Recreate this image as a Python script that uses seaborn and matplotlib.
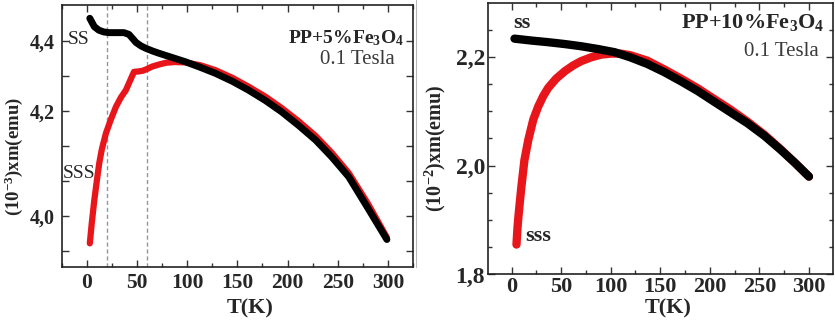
import matplotlib
matplotlib.use("Agg")
import matplotlib.pyplot as plt
import numpy as np
import pandas as pd
import seaborn as sns
from matplotlib.ticker import MultipleLocator, FixedLocator, FixedFormatter
from matplotlib.lines import Line2D

# ---------------- data ----------------
# Left panel: PP+5%Fe3O4
t5_ss = [3, 7.5, 12, 17, 22, 30, 37, 42, 46, 49, 54, 59, 66, 72, 85, 98, 113, 128,
         145, 161, 178, 194, 211, 228, 244, 261, 280, 299]
m5_ss = [4.464, 4.440, 4.430, 4.425, 4.423, 4.423, 4.423, 4.418, 4.405, 4.395, 4.385,
         4.378, 4.370, 4.364, 4.352, 4.340, 4.324, 4.307, 4.284, 4.259, 4.229, 4.197,
         4.158, 4.116, 4.068, 4.011, 3.922, 3.832]
t5_sss = [3, 5, 7.5, 10, 12.4, 15, 19, 24, 29, 34, 39, 43, 47, 51, 55.5, 60, 65, 72,
          79, 88, 98, 113, 128, 145, 161, 178, 194, 211, 228, 244, 261, 280, 299]
m5_sss = [3.821, 3.880, 3.945, 4.000, 4.050, 4.090, 4.135, 4.175, 4.211, 4.238, 4.259,
          4.285, 4.311, 4.312, 4.314, 4.319, 4.326, 4.332, 4.337, 4.339, 4.338, 4.330,
          4.316, 4.294, 4.269, 4.240, 4.208, 4.170, 4.128, 4.080, 4.022, 3.935, 3.838]
t5_markers = [20, 60]
left_ytick_pos = [3.8, 3.9, 4.0, 4.1, 4.2, 4.3, 4.4]
left_ytick_labels = ["", "4,0", "", "", "4,2", "", "4,4"]

# Right panel: PP+10%Fe3O4
t10_ss = [3, 20, 37, 54, 70, 87, 104, 120, 137, 154, 171, 188, 204, 221, 238, 255,
          271, 286, 300]
m10_ss = [2.2335, 2.230, 2.227, 2.2235, 2.2196, 2.2145, 2.2086, 2.199, 2.187, 2.172,
          2.155, 2.137, 2.118, 2.098, 2.078, 2.055, 2.030, 2.005, 1.980]
t10_sss = [5, 6, 7, 8.5, 10, 13, 17, 22, 27, 32, 37, 45, 54, 62, 70, 80, 90, 100,
           110, 120, 137, 154, 171, 188, 204, 221, 238, 255, 271, 286, 300]
m10_sss = [1.855, 1.885, 1.907, 1.935, 1.962, 2.010, 2.048, 2.085, 2.109, 2.128, 2.143,
           2.160, 2.174, 2.184, 2.192, 2.199, 2.204, 2.206, 2.206, 2.203, 2.193, 2.177,
           2.160, 2.142, 2.123, 2.103, 2.081, 2.057, 2.031, 2.005, 1.980]
right_ytick_pos = [1.8, 2.0, 2.2]
right_ytick_labels = ["1,8", "2,0", "2,2"]
xtick_pos = [0, 50, 100, 150, 200, 250, 300]

RED = "#e8161b"
BLACK = "#000000"

# ---------------- style ----------------
sns.set_style("ticks")
plt.rcParams["font.family"] = ["Liberation Serif", "DejaVu Serif"]
plt.rcParams["mathtext.fontset"] = "custom"
plt.rcParams["mathtext.rm"] = "Liberation Serif"
plt.rcParams["mathtext.bf"] = "Liberation Serif:bold"
plt.rcParams["mathtext.it"] = "Liberation Serif:italic"

fig = plt.figure(figsize=(8.35, 3.2), dpi=100)
axL = fig.add_axes([0.0739, 0.1656, 0.4207, 0.8188])
axR = fig.add_axes([0.5841, 0.1422, 0.4132, 0.8494])

# separator line at the left of the right panel
fig.add_artist(Line2D([416 / 835, 416 / 835], [1 - 267 / 320, 1.0],
                      transform=fig.transFigure, color="#b8b8b8", lw=0.8))

# ---------- left panel ----------
for t in t5_markers:
    axL.axvline(t, color="#8d97aa", lw=1.0, ls=(0, (3, 2)), zorder=1)
sns.lineplot(x=t5_sss, y=m5_sss, ax=axL, color=RED, lw=4.5, estimator=None,
             sort=False, zorder=2)
sns.lineplot(x=t5_ss, y=m5_ss, ax=axL, color=BLACK, lw=5.0, estimator=None,
             sort=False, zorder=3)
axL.set_xlim(-25, 325)
axL.set_ylim(3.7534, 4.502)
axL.xaxis.set_major_locator(FixedLocator(xtick_pos))
axL.xaxis.set_minor_locator(MultipleLocator(25))
axL.yaxis.set_major_locator(FixedLocator(left_ytick_pos))
axL.yaxis.set_major_formatter(FixedFormatter(left_ytick_labels))
axL.tick_params(axis="both", which="both", direction="in", top=True, right=True,
                width=1.0, color="#333333")
axL.tick_params(axis="x", which="major", length=5, labelsize=15.5, pad=4)
axL.tick_params(axis="x", which="minor", length=3)
axL.tick_params(axis="y", which="major", length=5, labelsize=14.5, pad=5)
for lab in axL.get_xticklabels() + axL.get_yticklabels():
    lab.set_fontweight("bold")
axL.set_xlabel("T(K)", fontsize=16, fontweight="bold")
axL.set_ylabel(r"(10$^{\mathbf{-3}}$)xm(emu)", fontsize=13.5, fontweight="bold")
axL.xaxis.set_label_coords(0.536, -0.12)
axL.yaxis.set_label_coords(-0.104, 0.42)
axL.text(0.047, 0.870, "SS", transform=axL.transAxes, fontsize=14,
         ha="center", va="center")
axL.text(0.050, 0.355, "SSS", transform=axL.transAxes, fontsize=14,
         ha="center", va="center")
axL.text(0.974, 0.874, r"PP+5%Fe$_\mathbf{3}$O$_\mathbf{4}$", transform=axL.transAxes,
         fontsize=14, fontweight="bold", ha="right", va="center")
axL.text(0.949, 0.793, "0.1 Tesla", transform=axL.transAxes, fontsize=15,
         color="#3a3a3a", ha="right", va="center")

# ---------- right panel ----------
sns.lineplot(x=t10_sss, y=m10_sss, ax=axR, color=RED, lw=6.0, estimator=None,
             sort=False, zorder=2)
sns.lineplot(x=t10_ss, y=m10_ss, ax=axR, color=BLACK, lw=6.0, estimator=None,
             sort=False, zorder=3)
axR.set_xlim(-24, 324)
axR.set_ylim(1.8, 2.2996)
axR.xaxis.set_major_locator(FixedLocator(xtick_pos))
axR.xaxis.set_minor_locator(MultipleLocator(25))
axR.yaxis.set_major_locator(FixedLocator(right_ytick_pos))
axR.yaxis.set_major_formatter(FixedFormatter(right_ytick_labels))
axR.yaxis.set_minor_locator(MultipleLocator(0.05))
axR.tick_params(axis="both", which="both", direction="in", top=True, right=True,
                width=1.0, color="#333333")
axR.tick_params(axis="x", which="major", length=5, labelsize=16, pad=2)
axR.tick_params(axis="y", which="major", length=5, labelsize=17, pad=2)
axR.tick_params(axis="both", which="minor", length=3)
for lab in axR.get_xticklabels() + axR.get_yticklabels():
    lab.set_fontweight("bold")
axR.set_xlabel("T(K)", fontsize=16, fontweight="bold")
axR.set_ylabel(r"(10$^{\mathbf{-2}}$)xm(emu)", fontsize=14.5, fontweight="bold")
axR.xaxis.set_label_coords(0.523, -0.09)
axR.yaxis.set_label_coords(-0.115, 0.465)
axR.text(0.098, 0.925, "ss", transform=axR.transAxes, fontsize=16,
         fontweight="bold", ha="center", va="center")
axR.text(0.147, 0.142, "sss", transform=axR.transAxes, fontsize=16,
         fontweight="bold", ha="center", va="center")
axR.text(0.975, 0.927, r"PP+10%Fe$_\mathbf{3}$O$_\mathbf{4}$", transform=axR.transAxes,
         fontsize=16, fontweight="bold", ha="right", va="center")
axR.text(0.958, 0.820, "0.1 Tesla", transform=axR.transAxes, fontsize=15,
         color="#3a3a3a", ha="right", va="center")

for ax in (axL, axR):
    for sp in ax.spines.values():
        sp.set_linewidth(1.2)
        sp.set_color("#222222")

fig.savefig("out.png", dpi=100)
